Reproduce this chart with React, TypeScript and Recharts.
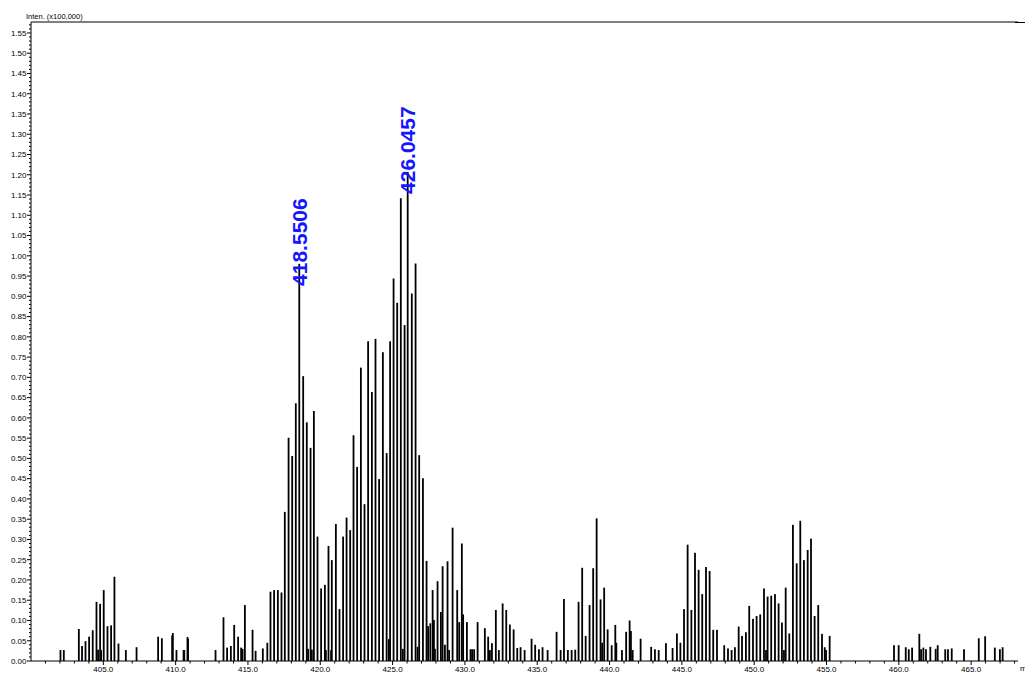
import React from "react";
import { BarChart, Bar, XAxis, YAxis, ReferenceLine, LabelList } from "recharts";

// m/z positions of the sticks
const mzValues: number[] = [
  402.04, 402.27, 403.31, 403.53, 403.77, 404.02, 404.27, 404.53, 404.64, 404.78, 404.85,
  405.03, 405.29, 405.54, 405.77, 406.05, 406.56, 407.30, 408.79, 409.05, 409.76, 409.81,
  410.06, 410.55, 410.60, 410.82, 410.86, 412.76, 413.31, 413.56, 413.82, 414.05, 414.32,
  414.53, 414.63, 414.79, 415.32, 415.53, 416.03, 416.34, 416.56, 416.81, 417.07, 417.32,
  417.55, 417.81, 418.06, 418.31, 418.5506, 418.82, 419.07, 419.16, 419.33, 419.42, 419.56,
  419.81, 420.06, 420.32, 420.39, 420.57, 420.75, 420.80, 421.08, 421.33, 421.58, 421.82,
  422.07, 422.30, 422.55, 422.81, 423.06, 423.31, 423.57, 423.82, 424.07, 424.33, 424.59,
  424.74, 424.83, 425.07, 425.32, 425.57, 425.71, 425.83, 426.0457, 426.33, 426.59, 426.73,
  426.84, 427.10, 427.35, 427.46, 427.61, 427.77, 427.86, 427.93, 428.11, 428.34, 428.46,
  428.62, 428.80, 428.91, 429.15, 429.47, 429.61, 429.79, 429.88, 430.14, 430.39, 430.50,
  430.64, 430.88, 431.38, 431.61, 431.73, 431.87, 432.14, 432.35, 432.61, 432.86, 433.11,
  433.37, 433.62, 433.85, 434.13, 434.61, 434.86, 435.12, 435.37, 435.72, 436.34, 436.62,
  436.85, 437.12, 437.38, 437.63, 437.86, 438.11, 438.35, 438.62, 438.87, 439.11, 439.38,
  439.49, 439.63, 439.87, 440.15, 440.40, 440.47, 440.86, 441.15, 441.39, 441.48, 441.60,
  442.15, 442.88, 443.14, 443.40, 443.90, 444.36, 444.66, 444.90, 445.15, 445.40, 445.66,
  445.91, 446.16, 446.41, 446.67, 446.92, 447.17, 447.43, 447.93, 448.19, 448.44, 448.67,
  448.93, 449.16, 449.43, 449.66, 449.92, 450.17, 450.42, 450.68, 450.82, 450.93, 451.18,
  451.44, 451.69, 451.92, 452.06, 452.18, 452.43, 452.68, 452.94, 453.19, 453.44, 453.70,
  453.93, 454.18, 454.43, 454.69, 454.88, 454.97, 455.22, 459.67, 459.99, 460.48, 460.69,
  460.92, 461.42, 461.54, 461.70, 461.88, 462.18, 462.55, 462.69, 463.21, 463.40, 463.66,
  464.51, 465.53, 465.97, 466.64, 466.99, 467.18,
];

// intensities (x100,000)
const intensities: number[] = [
  0.027, 0.027, 0.079, 0.037, 0.049, 0.060, 0.076, 0.146, 0.028, 0.141, 0.027,
  0.175, 0.086, 0.088, 0.208, 0.043, 0.027, 0.034, 0.060, 0.056, 0.063, 0.069,
  0.027, 0.027, 0.027, 0.059, 0.055, 0.027, 0.108, 0.033, 0.037, 0.089, 0.060,
  0.033, 0.030, 0.138, 0.077, 0.025, 0.031, 0.045, 0.171, 0.175, 0.175, 0.169,
  0.368, 0.551, 0.506, 0.636, 0.980, 0.703, 0.589, 0.030, 0.526, 0.028, 0.617,
  0.307, 0.179, 0.188, 0.027, 0.284, 0.027, 0.249, 0.338, 0.128, 0.307, 0.354,
  0.323, 0.557, 0.479, 0.724, 0.387, 0.789, 0.664, 0.795, 0.449, 0.762, 0.513,
  0.054, 0.789, 0.944, 0.884, 1.142, 0.030, 0.829, 1.207, 0.907, 0.981, 0.035,
  0.508, 0.451, 0.247, 0.086, 0.093, 0.175, 0.101, 0.030, 0.197, 0.121, 0.234,
  0.040, 0.246, 0.027, 0.329, 0.175, 0.096, 0.290, 0.115, 0.096, 0.029, 0.029,
  0.029, 0.096, 0.081, 0.060, 0.027, 0.044, 0.126, 0.027, 0.142, 0.126, 0.090,
  0.078, 0.032, 0.034, 0.027, 0.055, 0.040, 0.029, 0.034, 0.027, 0.072, 0.027,
  0.153, 0.027, 0.027, 0.028, 0.146, 0.230, 0.062, 0.138, 0.229, 0.352, 0.152,
  0.045, 0.181, 0.078, 0.039, 0.089, 0.045, 0.027, 0.072, 0.100, 0.074, 0.027,
  0.055, 0.035, 0.029, 0.027, 0.044, 0.032, 0.068, 0.045, 0.128, 0.287, 0.126,
  0.267, 0.225, 0.165, 0.232, 0.222, 0.077, 0.077, 0.039, 0.031, 0.027, 0.034,
  0.085, 0.062, 0.071, 0.136, 0.104, 0.111, 0.115, 0.179, 0.027, 0.159, 0.161,
  0.165, 0.142, 0.095, 0.027, 0.181, 0.068, 0.336, 0.241, 0.346, 0.249, 0.274,
  0.302, 0.111, 0.138, 0.067, 0.034, 0.027, 0.062, 0.039, 0.039, 0.034, 0.029,
  0.033, 0.067, 0.029, 0.033, 0.029, 0.035, 0.030, 0.039, 0.029, 0.029, 0.031,
  0.029, 0.056, 0.061, 0.033, 0.029, 0.034,
];

// annotated peaks
const peakLabels: string[] = ["418.5506", "426.0457"];

const xMajorTicks: number[] = [405, 410, 415, 420, 425, 430, 435, 440, 445, 450, 455, 460, 465];
const yMajorTicks: number[] = [
  0, 0.05, 0.1, 0.15, 0.2, 0.25, 0.3, 0.35, 0.4, 0.45, 0.5, 0.55, 0.6, 0.65, 0.7, 0.75,
  0.8, 0.85, 0.9, 0.95, 1.0, 1.05, 1.1, 1.15, 1.2, 1.25, 1.3, 1.35, 1.4, 1.45, 1.5, 1.55,
];

const X_MIN = 400.0;
const X_MAX = 468.24;
const Y_MAX = 1.577;

const data = mzValues.map((mz, i) => {
  const s = mz.toFixed(4);
  return { mz, inten: intensities[i], label: peakLabels.includes(s) ? s : undefined };
});

const xTicks: number[] = [];
for (let v = 401; v <= 468; v++) xTicks.push(v);
const yTicks: number[] = [];
for (let i = 0; i <= 157; i++) yTicks.push(i / 100);

const FONT = "'Liberation Sans', Arial, sans-serif";
const STICK_W = 1.8;

const XTick = (props: any) => {
  const { x, y, payload } = props;
  const v = Math.round(payload.value);
  const major = xMajorTicks.includes(v);
  return (
    <g>
      <line x1={x} y1={y} x2={x} y2={y + (major ? 4 : 2.5)} stroke="#000" strokeWidth={1} />
      {major && (
        <text x={x} y={y + 11} textAnchor="middle" fontSize={8} fontFamily={FONT} fill="#000">
          {v.toFixed(1)}
        </text>
      )}
    </g>
  );
};

const YTick = (props: any) => {
  const { x, y, payload } = props;
  const v = payload.value as number;
  const major = yMajorTicks.some((t) => Math.abs(t - v) < 1e-6);
  return (
    <g>
      <line x1={x - (major ? 4 : 2)} y1={y} x2={x} y2={y} stroke="#000" strokeWidth={1} />
      {major && (
        <text x={x - 4.5} y={y + 2.8} textAnchor="end" fontSize={8} fontFamily={FONT} fill="#000">
          {v.toFixed(2)}
        </text>
      )}
    </g>
  );
};

const Stick = (props: any) => {
  const { x, y, width, height } = props;
  if (height == null || !isFinite(height)) return null;
  const cx = Number(x) + Number(width) / 2;
  return <rect x={cx - STICK_W / 2} y={y} width={STICK_W} height={height} fill="#000" />;
};

const PeakLabel = (props: any) => {
  const { x, y, width, value } = props;
  if (!value) return null;
  const cx = Number(x) + Number(width) / 2;
  const yb = Number(y) + 22;
  return (
    <text
      x={cx}
      y={yb}
      transform={`rotate(-90 ${cx} ${yb})`}
      textAnchor="start"
      dominantBaseline="central"
      fontSize={21}
      fontWeight="bold"
      fontFamily={FONT}
      fill="#1515ff"
    >
      {value}
    </text>
  );
};

export default function App() {
  return (
    <div style={{ position: "absolute", left: 0, top: 0, width: 1025, height: 673, overflow: "hidden", background: "#fff" }}>
      <BarChart
        width={1025}
        height={673}
        data={data}
        margin={{ top: 22, right: 7, bottom: 0, left: 0 }}
        barGap={0}
        barCategoryGap={0}
      >
        <XAxis
          type="number"
          dataKey="mz"
          domain={[X_MIN, X_MAX]}
          allowDataOverflow
          ticks={xTicks}
          interval={0}
          tick={<XTick />}
          tickLine={false}
          tickSize={0}
          tickMargin={0}
          height={12}
          axisLine={{ stroke: "#000", strokeWidth: 1 }}
        />
        <YAxis
          type="number"
          domain={[0, Y_MAX]}
          allowDataOverflow
          ticks={yTicks}
          interval={0}
          tick={<YTick />}
          tickLine={false}
          tickSize={0}
          tickMargin={0}
          width={31}
          axisLine={{ stroke: "#000", strokeWidth: 1 }}
        />
        <ReferenceLine y={Y_MAX} stroke="#000" strokeWidth={1} />
        <Bar dataKey="inten" fill="#000" barSize={2} shape={<Stick />} isAnimationActive={false}>
          <LabelList dataKey="label" content={<PeakLabel />} />
        </Bar>
      </BarChart>
      <div style={{ position: "absolute", left: 1015, top: 21.5, width: 10, height: 1, background: "#000" }} />
      <div
        style={{
          position: "absolute",
          left: 26,
          top: 12,
          fontSize: 7.5,
          fontFamily: FONT,
          lineHeight: "9px",
          whiteSpace: "nowrap",
          color: "#000",
        }}
      >
        Inten. (x100,000)
      </div>
      <div
        style={{
          position: "absolute",
          left: 1020,
          top: 664,
          fontSize: 8,
          fontFamily: FONT,
          lineHeight: "10px",
          whiteSpace: "nowrap",
          color: "#000",
        }}
      >
        m/z
      </div>
    </div>
  );
}
